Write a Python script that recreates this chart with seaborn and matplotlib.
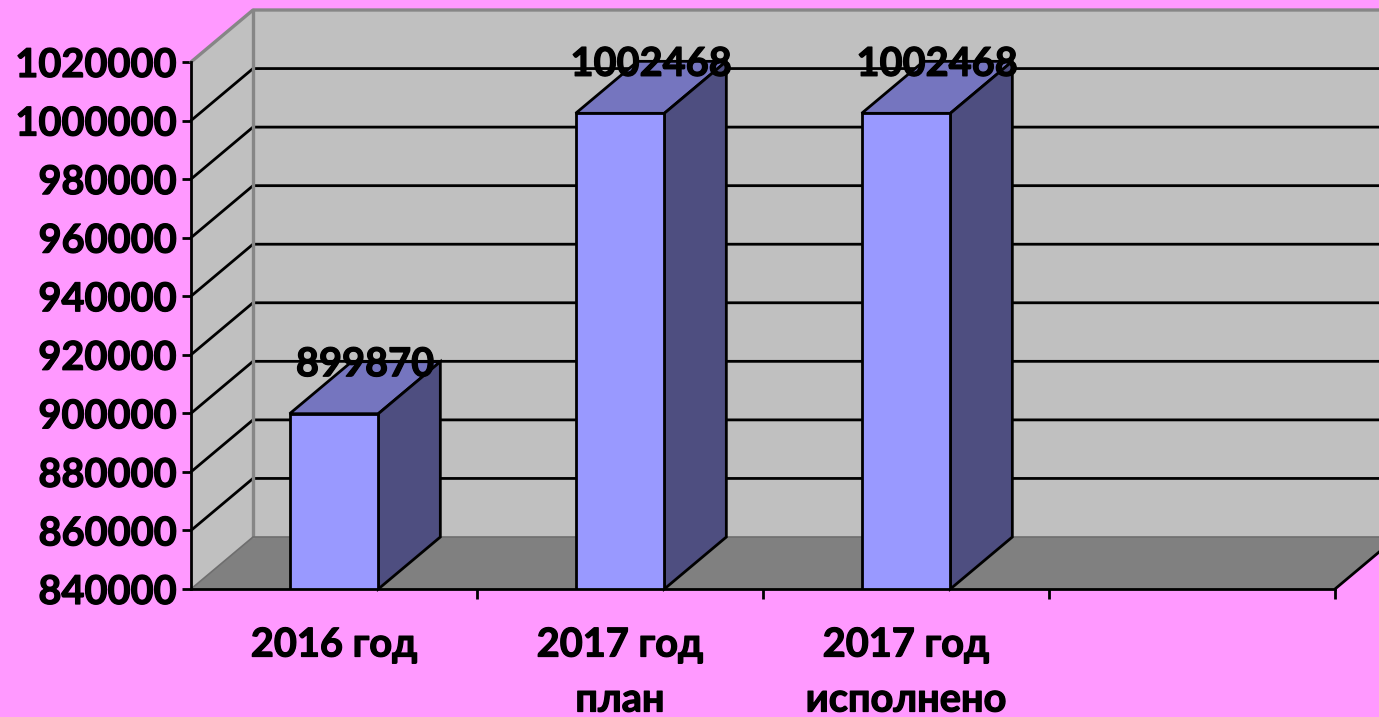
import matplotlib
matplotlib.use("Agg")
import matplotlib.pyplot as plt
import matplotlib.patheffects as pe
from matplotlib.ticker import MultipleLocator, FuncFormatter
import pandas as pd
import seaborn as sns

categories = ["2016 год", "2017 год\nплан", "2017 год\nисполнено", " "]
values = [899870, 1002468, 1002468, None]
labels = ["899870", "1002468", "1002468"]

W, H = 1379, 717
L, R, B, T = 191, 1335, 589, 62
YMIN, YMAX, STEP = 840000, 1020000, 20000
PINK, WALL, FLOOR, EDGE = "#FF99FF", "#C0C0C0", "#808080", "#868686"
FRONT, TOP, SIDE = "#9999FF", "#7575BF", "#4E4E80"
FONT = ["Lato", "Open Sans", "DejaVu Sans"]
FS = 28.6
BOLDER = [pe.withStroke(linewidth=0.9, foreground="black")]
LW = 2.0

sns.set_theme(style="white")
plt.rcParams["font.family"] = FONT
plt.rcParams["font.weight"] = "bold"

fig = plt.figure(figsize=(W / 100, H / 100), dpi=100, facecolor=PINK)
ax = fig.add_axes([L / W, 1 - B / H, (R - L) / W, (B - T) / H])
ax.patch.set_visible(False)

df = pd.DataFrame({"cat": categories, "val": values})
sns.barplot(data=df, x="cat", y="val", order=categories, color=FRONT, saturation=1,
            width=0.31, edgecolor="black", linewidth=LW, errorbar=None, ax=ax, zorder=4)
ax.set_xlim(-0.5, len(categories) - 0.5)
ax.set_ylim(YMIN, YMAX)
ax.yaxis.set_major_locator(MultipleLocator(STEP))
ax.set_xlabel("")
ax.set_ylabel("")

# depth of the pseudo-3D box, in data units
dx = 62 / ((R - L) / len(categories))
dy = 52 / ((B - T) / (YMAX - YMIN))
x0, x1 = ax.get_xlim()

def face(xs, ys, color, z, **kw):
    ax.fill(xs, ys, facecolor=color, edgecolor=kw.pop("ec", "none"), zorder=z,
            clip_on=False, **kw)

face([x0 + dx, x1 + dx, x1 + dx, x0 + dx], [YMIN + dy, YMIN + dy, YMAX + dy, YMAX + dy], WALL, 0.5)
face([x0, x0 + dx, x0 + dx, x0], [YMIN, YMIN + dy, YMAX + dy, YMAX], WALL, 0.5)
face([x0, x1, x1 + dx, x0 + dx], [YMIN, YMIN, YMIN + dy, YMIN + dy], FLOOR, 0.7)

for v in range(YMIN + STEP, YMAX, STEP):
    ax.plot([x0, x0 + dx, x1 + dx], [v, v + dy, v + dy], color="black", lw=LW,
            zorder=0.6, clip_on=False, solid_joinstyle="miter")

# wall outlines
ax.plot([x0, x0 + dx, x1 + dx], [YMAX, YMAX + dy, YMAX + dy], color=EDGE, lw=2.4, zorder=0.8, clip_on=False)
ax.plot([x0 + dx, x0 + dx], [YMIN + dy, YMAX + dy], color=EDGE, lw=2.4, zorder=0.8, clip_on=False)
ax.plot([x0, x0 + dx, x1 + dx], [YMIN, YMIN + dy, YMIN + dy], color="#6E6E6E", lw=1.2, zorder=0.8, clip_on=False)
ax.plot([x1, x1 + dx], [YMIN, YMIN + dy], color="black", lw=LW, zorder=0.9, clip_on=False)

# bar top and side faces, data labels
half = 0.31 / 2
for i, (v, lab) in enumerate(zip(values[:3], labels)):
    a, b = i - half, i + half
    face([a, b, b + dx, a + dx], [v, v, v + dy, v + dy], TOP, 3, ec="black", linewidth=LW)
    face([b, b + dx, b + dx, b], [YMIN, YMIN + dy, v + dy, v], SIDE, 3, ec="black", linewidth=LW)
    ax.annotate(lab, xy=(i + dx / 2, v + dy), xycoords="data", xytext=(0, -3),
                textcoords="offset pixels", ha="center", va="center", fontsize=FS,
                fontweight="bold", color="black", zorder=6, annotation_clip=False,
                path_effects=BOLDER)

for side in ("top", "right"):
    ax.spines[side].set_visible(False)
for side in ("left", "bottom"):
    ax.spines[side].set_linewidth(LW)
    ax.spines[side].set_color("black")
    ax.spines[side].set_zorder(5)

ax.set_xticks([i + 0.5 for i in range(len(categories))])
ax.xaxis.set_ticks_position("bottom")
ax.tick_params(axis="x", which="major", length=7.2, width=LW, color="black", labelbottom=False)
ax.tick_params(axis="y", length=6.5, width=LW, color="black", pad=4, left=True,
               labelsize=FS, labelcolor="black")
ax.yaxis.set_major_formatter(FuncFormatter(lambda v, _: f"{int(v)}"))
for t in ax.get_yticklabels():
    t.set_fontweight("bold")
    t.set_path_effects(BOLDER)

for i, c in enumerate(categories[:3]):
    lines = c.split("\n")
    for j, line in enumerate(lines):
        ax.annotate(line, xy=(i, YMIN), xycoords="data", xytext=(0, -56 - 55 * j),
                    textcoords="offset pixels", ha="center", va="center", fontsize=FS,
                    fontweight="bold", color="black", annotation_clip=False,
                    path_effects=BOLDER)

fig.savefig("out.png", dpi=100, facecolor=PINK)
